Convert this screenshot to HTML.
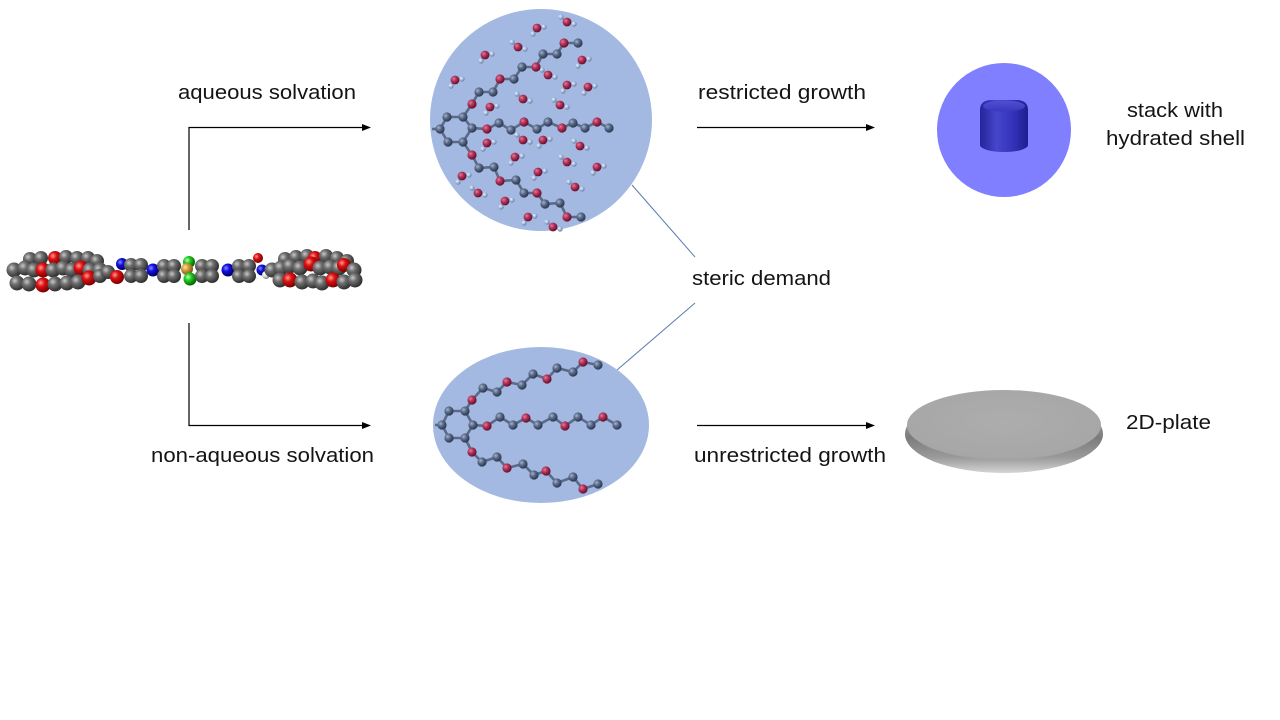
<!DOCTYPE html>
<html><head><meta charset="utf-8"><style>
html,body{margin:0;padding:0;background:#fff;}
svg{display:block;}
text{font-family:"Liberation Sans",sans-serif;font-size:20px;fill:#141414;}
</style></head><body>
<svg width="1280" height="720" viewBox="0 0 1280 720" xmlns="http://www.w3.org/2000/svg">
<defs>
<radialGradient id="gC" cx="35%" cy="35%" r="65%"><stop offset="0" stop-color="#a6b3cc"/><stop offset="0.45" stop-color="#5a6b8a"/><stop offset="1" stop-color="#2c3850"/></radialGradient>
<radialGradient id="gO" cx="35%" cy="35%" r="65%"><stop offset="0" stop-color="#e57a98"/><stop offset="0.45" stop-color="#b0345a"/><stop offset="1" stop-color="#661030"/></radialGradient>
<radialGradient id="gH" cx="35%" cy="35%" r="65%"><stop offset="0" stop-color="#eef3ff"/><stop offset="0.5" stop-color="#a8bcdc"/><stop offset="1" stop-color="#6a82aa"/></radialGradient>
<radialGradient id="gG" cx="35%" cy="35%" r="65%"><stop offset="0" stop-color="#c8c8c8"/><stop offset="0.4" stop-color="#6e6e6e"/><stop offset="1" stop-color="#303030"/></radialGradient>
<radialGradient id="gR" cx="35%" cy="35%" r="65%"><stop offset="0" stop-color="#ff9a9a"/><stop offset="0.4" stop-color="#dd1010"/><stop offset="1" stop-color="#7a0000"/></radialGradient>
<radialGradient id="gB" cx="35%" cy="35%" r="65%"><stop offset="0" stop-color="#8a8aff"/><stop offset="0.4" stop-color="#1010e0"/><stop offset="1" stop-color="#000066"/></radialGradient>
<radialGradient id="gGr" cx="35%" cy="35%" r="65%"><stop offset="0" stop-color="#c0ffc0"/><stop offset="0.4" stop-color="#22cc22"/><stop offset="1" stop-color="#006600"/></radialGradient>
<radialGradient id="gOr" cx="35%" cy="35%" r="65%"><stop offset="0" stop-color="#ffe6a8"/><stop offset="0.4" stop-color="#d8a040"/><stop offset="1" stop-color="#7a5a18"/></radialGradient>
<radialGradient id="gW" cx="35%" cy="35%" r="65%"><stop offset="0" stop-color="#ffffff"/><stop offset="0.5" stop-color="#dddddd"/><stop offset="1" stop-color="#888888"/></radialGradient>
<linearGradient id="cyl" x1="0" x2="1" y1="0" y2="0"><stop offset="0" stop-color="#24249a"/><stop offset="0.35" stop-color="#4646cc"/><stop offset="0.7" stop-color="#3232b8"/><stop offset="1" stop-color="#1e1e90"/></linearGradient>
<linearGradient id="cylTop" x1="0" x2="0" y1="0" y2="1"><stop offset="0" stop-color="#5050d4"/><stop offset="1" stop-color="#3838bc"/></linearGradient>
<linearGradient id="rim" x1="0" x2="0" y1="0" y2="1"><stop offset="0" stop-color="#c4c4c4"/><stop offset="0.55" stop-color="#7c7c7c"/><stop offset="0.8" stop-color="#9a9a9a"/><stop offset="1" stop-color="#d4d4d4"/></linearGradient>
<radialGradient id="plateTop" cx="50%" cy="45%" r="60%"><stop offset="0" stop-color="#adadad"/><stop offset="0.85" stop-color="#a7a7a7"/><stop offset="1" stop-color="#9c9c9c"/></radialGradient>
<circle id="C" r="4.6" fill="url(#gC)"/>
<circle id="O" r="4.6" fill="url(#gO)"/>
<circle id="H" r="2.7" fill="url(#gH)"/>
<g id="wA"><line x1="0" y1="0" x2="7" y2="-1" stroke="#8a9ab8" stroke-width="2"/><line x1="0" y1="0" x2="-4" y2="6" stroke="#8a9ab8" stroke-width="2"/><use href="#H" x="7" y="-1"/><use href="#H" x="-4" y="6"/><circle r="4.4" fill="url(#gO)"/></g>
<g id="wB"><line x1="0" y1="0" x2="-6" y2="-5" stroke="#8a9ab8" stroke-width="2"/><line x1="0" y1="0" x2="7" y2="2" stroke="#8a9ab8" stroke-width="2"/><use href="#H" x="-6" y="-5"/><use href="#H" x="7" y="2"/><circle r="4.4" fill="url(#gO)"/></g>
</defs>

<!-- Molecule (space filling) -->
<g>
<circle cx="30" cy="259" r="7" fill="url(#gG)"/><circle cx="41" cy="258" r="7" fill="url(#gG)"/><circle cx="55" cy="258" r="7" fill="url(#gR)"/><circle cx="66" cy="257" r="7" fill="url(#gG)"/><circle cx="77" cy="258" r="7" fill="url(#gG)"/><circle cx="88" cy="258" r="7" fill="url(#gG)"/><circle cx="97" cy="261" r="7" fill="url(#gG)"/>
<circle cx="14" cy="270" r="7.5" fill="url(#gG)"/><circle cx="25" cy="268" r="7.5" fill="url(#gG)"/><circle cx="34" cy="270" r="7.5" fill="url(#gG)"/><circle cx="43" cy="270" r="7.5" fill="url(#gR)"/><circle cx="53" cy="270" r="7.5" fill="url(#gG)"/><circle cx="63" cy="268" r="7.5" fill="url(#gG)"/><circle cx="72" cy="270" r="7.5" fill="url(#gG)"/><circle cx="81" cy="268" r="7.5" fill="url(#gR)"/><circle cx="90" cy="270" r="7.5" fill="url(#gG)"/><circle cx="100" cy="270" r="7.5" fill="url(#gG)"/>
<circle cx="17" cy="283" r="7.5" fill="url(#gG)"/><circle cx="29" cy="284" r="7.5" fill="url(#gG)"/><circle cx="43" cy="285" r="7.5" fill="url(#gR)"/><circle cx="55" cy="284" r="7.5" fill="url(#gG)"/><circle cx="67" cy="283" r="7.5" fill="url(#gG)"/><circle cx="78" cy="282" r="7.5" fill="url(#gG)"/><circle cx="89" cy="278" r="7.5" fill="url(#gR)"/>
<circle cx="100" cy="276" r="7" fill="url(#gG)"/><circle cx="108" cy="272" r="7" fill="url(#gG)"/><circle cx="117" cy="277" r="7" fill="url(#gR)"/>
<circle cx="122" cy="264" r="6" fill="url(#gB)"/>
<circle cx="131" cy="265" r="7" fill="url(#gG)"/><circle cx="141" cy="265" r="7" fill="url(#gG)"/><circle cx="131" cy="276" r="7" fill="url(#gG)"/><circle cx="141" cy="276" r="7" fill="url(#gG)"/>
<circle cx="153" cy="270" r="6.5" fill="url(#gB)"/>
<circle cx="164" cy="266" r="7" fill="url(#gG)"/><circle cx="174" cy="266" r="7" fill="url(#gG)"/><circle cx="164" cy="276" r="7" fill="url(#gG)"/><circle cx="174" cy="276" r="7" fill="url(#gG)"/>
<circle cx="189" cy="262" r="6" fill="url(#gGr)"/><circle cx="187" cy="269" r="6" fill="url(#gOr)"/><circle cx="190" cy="279" r="6.5" fill="url(#gGr)"/>
<circle cx="202" cy="266" r="7" fill="url(#gG)"/><circle cx="212" cy="266" r="7" fill="url(#gG)"/><circle cx="202" cy="276" r="7" fill="url(#gG)"/><circle cx="212" cy="276" r="7" fill="url(#gG)"/>
<circle cx="228" cy="270" r="6.5" fill="url(#gB)"/>
<circle cx="239" cy="266" r="7" fill="url(#gG)"/><circle cx="249" cy="266" r="7" fill="url(#gG)"/><circle cx="239" cy="276" r="7" fill="url(#gG)"/><circle cx="249" cy="276" r="7" fill="url(#gG)"/>
<circle cx="258" cy="258" r="5" fill="url(#gR)"/><circle cx="262" cy="270" r="5.5" fill="url(#gB)"/><circle cx="266" cy="275" r="4" fill="url(#gW)"/>
<circle cx="285" cy="259" r="7" fill="url(#gG)"/><circle cx="296" cy="257" r="7" fill="url(#gG)"/><circle cx="307" cy="256" r="7" fill="url(#gG)"/><circle cx="315" cy="258" r="7" fill="url(#gR)"/><circle cx="326" cy="256" r="7" fill="url(#gG)"/><circle cx="337" cy="258" r="7" fill="url(#gG)"/><circle cx="347" cy="261" r="7" fill="url(#gG)"/>
<circle cx="272" cy="270" r="7.5" fill="url(#gG)"/><circle cx="281" cy="268" r="7.5" fill="url(#gG)"/><circle cx="290" cy="266" r="7.5" fill="url(#gG)"/><circle cx="300" cy="268" r="7.5" fill="url(#gG)"/><circle cx="311" cy="264" r="7.5" fill="url(#gR)"/><circle cx="320" cy="268" r="7.5" fill="url(#gG)"/><circle cx="330" cy="267" r="7.5" fill="url(#gG)"/><circle cx="339" cy="268" r="7.5" fill="url(#gG)"/><circle cx="344" cy="265" r="7" fill="url(#gR)"/><circle cx="354" cy="270" r="7.5" fill="url(#gG)"/>
<circle cx="280" cy="280" r="7.5" fill="url(#gG)"/><circle cx="290" cy="280" r="7.5" fill="url(#gR)"/><circle cx="302" cy="282" r="7.5" fill="url(#gG)"/><circle cx="313" cy="281" r="7.5" fill="url(#gG)"/><circle cx="322" cy="283" r="7.5" fill="url(#gG)"/><circle cx="333" cy="280" r="7.5" fill="url(#gR)"/><circle cx="344" cy="282" r="7.5" fill="url(#gG)"/><circle cx="355" cy="280" r="7.5" fill="url(#gG)"/>
</g>

<!-- Arrows -->
<g stroke="#000" stroke-width="1.2" fill="none">
<polyline points="189,230 189,127.5 363,127.5"/>
<polyline points="189,323 189,425.5 363,425.5"/>
<line x1="697" y1="127.5" x2="867" y2="127.5"/>
<line x1="697" y1="425.5" x2="867" y2="425.5"/>
</g>
<g fill="#000">
<polygon points="362,124 371,127.5 362,131"/>
<polygon points="362,422 371,425.5 362,429"/>
<polygon points="866,124 875,127.5 866,131"/>
<polygon points="866,422 875,425.5 866,429"/>
</g>

<!-- steric lines -->
<line x1="632" y1="185" x2="695" y2="257" stroke="#5b7db0" stroke-width="1"/>
<line x1="695" y1="303" x2="617" y2="370" stroke="#5b7db0" stroke-width="1"/>

<!-- Top circle -->
<circle cx="541" cy="120" r="111" fill="#a4b9e1"/>
<g stroke="#5a6a88" stroke-width="2.6" fill="none">
<line x1="432" y1="129" x2="440" y2="129"/>
<polygon points="447,117 463,117 472,128 463,142 448,142 440,129"/>
<polyline points="472,128 487,129 499,123 511,130 524,122 537,129 548,122 562,128 573,123 585,128 597,122 609,128"/>
<polyline points="463,117 472,104 479,92 493,92 500,79 514,79 522,67 536,67 543,54 557,54 564,43 578,43"/>
<polyline points="463,142 472,155 479,168 494,167 500,181 516,180 524,193 537,193 545,204 560,203 567,217 581,217"/>
</g>
<g>
<use href="#wA" x="537" y="28"/><use href="#wB" x="567" y="22"/><use href="#wA" x="485" y="55"/><use href="#wB" x="518" y="47"/><use href="#wA" x="582" y="60"/><use href="#wA" x="455" y="80"/><use href="#wB" x="548" y="75"/><use href="#wA" x="567" y="85"/><use href="#wA" x="588" y="87"/><use href="#wB" x="523" y="99"/><use href="#wA" x="490" y="107"/><use href="#wB" x="560" y="105"/><use href="#wA" x="487" y="143"/><use href="#wB" x="523" y="140"/><use href="#wA" x="543" y="140"/><use href="#wB" x="580" y="146"/><use href="#wA" x="515" y="157"/><use href="#wB" x="567" y="162"/><use href="#wA" x="597" y="167"/><use href="#wA" x="538" y="172"/><use href="#wA" x="462" y="176"/><use href="#wB" x="575" y="187"/><use href="#wB" x="478" y="193"/><use href="#wA" x="505" y="201"/><use href="#wA" x="528" y="217"/><use href="#wB" x="553" y="227"/>
</g>
<g>
<use href="#C" x="447" y="117"/><use href="#C" x="463" y="117"/><use href="#C" x="472" y="128"/><use href="#C" x="463" y="142"/><use href="#C" x="448" y="142"/><use href="#C" x="440" y="129"/>
<use href="#O" x="487" y="129"/><use href="#C" x="499" y="123"/><use href="#C" x="511" y="130"/><use href="#O" x="524" y="122"/><use href="#C" x="537" y="129"/><use href="#C" x="548" y="122"/><use href="#O" x="562" y="128"/><use href="#C" x="573" y="123"/><use href="#C" x="585" y="128"/><use href="#O" x="597" y="122"/><use href="#C" x="609" y="128"/>
<use href="#O" x="472" y="104"/><use href="#C" x="479" y="92"/><use href="#C" x="493" y="92"/><use href="#O" x="500" y="79"/><use href="#C" x="514" y="79"/><use href="#C" x="522" y="67"/><use href="#O" x="536" y="67"/><use href="#C" x="543" y="54"/><use href="#C" x="557" y="54"/><use href="#O" x="564" y="43"/><use href="#C" x="578" y="43"/>
<use href="#O" x="472" y="155"/><use href="#C" x="479" y="168"/><use href="#C" x="494" y="167"/><use href="#O" x="500" y="181"/><use href="#C" x="516" y="180"/><use href="#C" x="524" y="193"/><use href="#O" x="537" y="193"/><use href="#C" x="545" y="204"/><use href="#C" x="560" y="203"/><use href="#O" x="567" y="217"/><use href="#C" x="581" y="217"/>
</g>

<!-- Bottom ellipse -->
<ellipse cx="541" cy="425" rx="108" ry="78" fill="#a4b9e1"/>
<g stroke="#5a6a88" stroke-width="2.6" fill="none">
<line x1="435" y1="425" x2="442" y2="425"/>
<polygon points="449,411 465,411 473,425 465,438 449,438 442,425"/>
<polyline points="465,411 472,400 483,388 497,392 507,382 522,385 533,374 547,379 557,368 573,372 583,362 598,365"/>
<polyline points="473,425 487,426 500,417 513,425 526,418 538,425 553,417 565,426 578,417 591,425 603,417 617,425"/>
<polyline points="465,438 472,452 482,462 497,457 507,468 523,464 534,475 546,471 557,483 573,477 583,489 598,484"/>
</g>
<g>
<use href="#C" x="449" y="411"/><use href="#C" x="465" y="411"/><use href="#C" x="473" y="425"/><use href="#C" x="465" y="438"/><use href="#C" x="449" y="438"/><use href="#C" x="442" y="425"/>
<use href="#O" x="472" y="400"/><use href="#C" x="483" y="388"/><use href="#C" x="497" y="392"/><use href="#O" x="507" y="382"/><use href="#C" x="522" y="385"/><use href="#C" x="533" y="374"/><use href="#O" x="547" y="379"/><use href="#C" x="557" y="368"/><use href="#C" x="573" y="372"/><use href="#O" x="583" y="362"/><use href="#C" x="598" y="365"/>
<use href="#O" x="487" y="426"/><use href="#C" x="500" y="417"/><use href="#C" x="513" y="425"/><use href="#O" x="526" y="418"/><use href="#C" x="538" y="425"/><use href="#C" x="553" y="417"/><use href="#O" x="565" y="426"/><use href="#C" x="578" y="417"/><use href="#C" x="591" y="425"/><use href="#O" x="603" y="417"/><use href="#C" x="617" y="425"/>
<use href="#O" x="472" y="452"/><use href="#C" x="482" y="462"/><use href="#C" x="497" y="457"/><use href="#O" x="507" y="468"/><use href="#C" x="523" y="464"/><use href="#C" x="534" y="475"/><use href="#O" x="546" y="471"/><use href="#C" x="557" y="483"/><use href="#C" x="573" y="477"/><use href="#O" x="583" y="489"/><use href="#C" x="598" y="484"/>
</g>

<!-- Blue shell + cylinder -->
<circle cx="1004" cy="130" r="67" fill="#7f7fff"/>
<path d="M980,110 Q980,101 990,100 L1018,100 Q1028,101 1028,110 L1028,145 A24,7 0 0 1 980,145 Z" fill="url(#cyl)"/>
<ellipse cx="1004" cy="106" rx="21" ry="5.5" fill="url(#cylTop)"/>

<!-- 2D plate -->
<ellipse cx="1004" cy="434" rx="99" ry="39" fill="url(#rim)"/>
<ellipse cx="1004" cy="425" rx="97" ry="35" fill="url(#plateTop)"/>

<!-- Labels -->
<text x="178" y="99" textLength="178" lengthAdjust="spacingAndGlyphs">aqueous solvation</text>
<text x="151" y="462" textLength="223" lengthAdjust="spacingAndGlyphs">non-aqueous solvation</text>
<text x="698" y="99" textLength="168" lengthAdjust="spacingAndGlyphs">restricted growth</text>
<text x="694" y="462" textLength="192" lengthAdjust="spacingAndGlyphs">unrestricted growth</text>
<text x="692" y="285" textLength="139" lengthAdjust="spacingAndGlyphs">steric demand</text>
<text x="1127" y="117" textLength="96" lengthAdjust="spacingAndGlyphs">stack with</text>
<text x="1106" y="145" textLength="139" lengthAdjust="spacingAndGlyphs">hydrated shell</text>
<text x="1126" y="429" textLength="85" lengthAdjust="spacingAndGlyphs">2D-plate</text>
</svg>
</body></html>
